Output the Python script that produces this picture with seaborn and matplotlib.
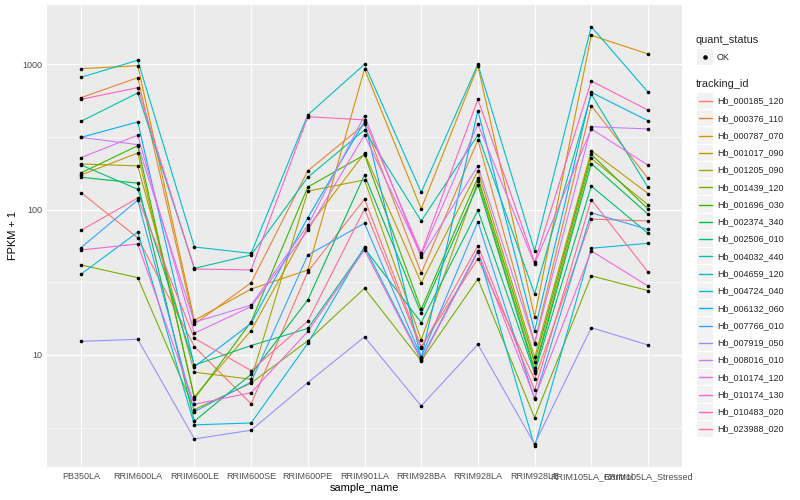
import matplotlib
matplotlib.use("Agg")
import matplotlib.pyplot as plt
import seaborn as sns
import pandas as pd
from matplotlib.patches import Rectangle
from matplotlib.lines import Line2D
from matplotlib.ticker import FixedLocator, NullFormatter

samples = ["PB350LA", "RRIM600LA", "RRIM600LE", "RRIM600SE", "RRIM600PE", "RRIM901LA",
           "RRIM928BA", "RRIM928LA", "RRIM928LE", "RRIM105LA_Control", "RRIM105LA_Stressed"]

tracking_ids = ["Hb_000185_120", "Hb_000376_110", "Hb_000787_070", "Hb_001017_090",
                "Hb_001205_090", "Hb_001439_120", "Hb_001696_030", "Hb_002374_340",
                "Hb_002506_010", "Hb_004032_440", "Hb_004659_120", "Hb_004724_040",
                "Hb_006132_060", "Hb_007766_010", "Hb_007919_050", "Hb_008016_010",
                "Hb_010174_120", "Hb_010174_130", "Hb_010483_020", "Hb_023988_020"]

# FPKM + 1 per sample (order of `samples`)
hb_000185_120 = [131, 64, 11.4, 4.6, 37.4, 118, 11.4, 46, 6.8, 86, 83.5]
hb_000376_110 = [589, 809, 16.3, 31.4, 185, 386, 36.5, 301, 12.1, 519, 164]
hb_000787_070 = [933, 978, 17.3, 28.4, 38.4, 929, 101, 973, 18.3, 1583, 1178]
hb_001017_090 = [173, 245, 5.15, 14.7, 75, 244, 31.4, 185, 9.6, 254, 129]
hb_001205_090 = [206, 200, 7.6, 6.8, 134, 160, 12.7, 157, 8.1, 225, 108]
hb_001439_120 = [41.6, 34, 4.2, 6.4, 12.5, 28.7, 9.1, 33.3, 3.7, 35, 27.7]
hb_001696_030 = [179, 275, 5.0, 16.9, 143, 238, 20.6, 166, 8.9, 240, 101]
hb_002374_340 = [167, 152, 3.5, 7.35, 23.9, 173, 19.3, 148, 7.75, 207, 93]
hb_002506_010 = [203, 138, 8.5, 11.6, 15.2, 54.2, 16.7, 99, 7.5, 145, 68.7]
hb_004032_440 = [405, 635, 39.4, 48.7, 167, 353, 83.5, 326, 26.3, 622, 142]
hb_004659_120 = [814, 1066, 55.3, 50, 448, 1000, 131.5, 1000, 52, 1815, 644]
hb_004724_040 = [35.9, 70, 3.3, 3.4, 12.0, 55.6, 9.4, 52, 2.35, 54.2, 58.6]
hb_006132_060 = [314, 401, 8.3, 16.5, 88, 403, 9.5, 480, 14.6, 641, 409]
hb_007766_010 = [54.7, 116, 4.07, 6.5, 48.7, 80.5, 9.7, 82.6, 4.97, 95, 73]
hb_007919_050 = [12.4, 12.8, 2.64, 3.03, 6.45, 13.3, 4.45, 11.8, 2.43, 15.4, 11.7]
hb_008016_010 = [314, 280, 16.8, 22, 78, 443, 47, 200, 11.9, 372, 359]
hb_010174_120 = [228, 325, 14.1, 21.5, 72, 326, 48.7, 388, 42.3, 359, 202]
hb_010174_130 = [52.7, 58, 4.57, 5.5, 14.5, 52.8, 9.2, 51.3, 5.07, 52, 29.8]
hb_010483_020 = [574, 690, 39.0, 38.4, 436, 414, 50, 574, 43.4, 767, 484]
hb_023988_020 = [72, 120, 13.0, 7.8, 17.1, 101, 11.1, 56.5, 5.7, 117, 37.2]

series = [hb_000185_120, hb_000376_110, hb_000787_070, hb_001017_090, hb_001205_090,
          hb_001439_120, hb_001696_030, hb_002374_340, hb_002506_010, hb_004032_440,
          hb_004659_120, hb_004724_040, hb_006132_060, hb_007766_010, hb_007919_050,
          hb_008016_010, hb_010174_120, hb_010174_130, hb_010483_020, hb_023988_020]

palette = ["#F8766D", "#EA8331", "#D89000", "#C09B00", "#A3A500", "#7CAE00", "#39B600",
           "#00BB4E", "#00BF7D", "#00C1A3", "#00BFC4", "#00BAE0", "#00B0F6", "#35A2FF",
           "#9590FF", "#C77CFF", "#E76BF3", "#FA62DB", "#FF62BC", "#FF6C91"]

rows = []
for tid, vals in zip(tracking_ids, series):
    for i, (s, v) in enumerate(zip(samples, vals)):
        rows.append({"tracking_id": tid, "sample_name": s, "pos": i, "value": v,
                     "quant_status": "OK"})
df = pd.DataFrame(rows)

sns.set_style("darkgrid", {"axes.facecolor": "#EBEBEB", "grid.color": "white"})
plt.rcParams["font.family"] = ["Liberation Sans", "DejaVu Sans"]

W, H, DPI = 800, 500, 72
fig, ax = plt.subplots(figsize=(W / DPI, H / DPI), dpi=DPI)
fig.patch.set_facecolor("white")
L, R, T, B = 47, 682, 5, 467
fig.subplots_adjust(left=L / W, right=R / W, top=1 - T / H, bottom=1 - B / H)

sns.lineplot(data=df, x="pos", y="value", hue="tracking_id", hue_order=tracking_ids,
             palette=palette, estimator=None, legend=False, linewidth=1.1, ax=ax)
sns.scatterplot(data=df, x="pos", y="value", color="black", s=13, linewidth=0,
                legend=False, ax=ax, zorder=5)

ax.set_yscale("log")
ax.set_ylim(1.692, 2559)
ax.set_xlim(-0.6, 10.6)
ax.set_xticks(range(len(samples)))
ax.set_xticklabels(samples)
ax.set_yticks([10, 100, 1000])
ax.set_yticklabels(["10", "100", "1000"])
ax.yaxis.set_minor_locator(FixedLocator([10 ** 0.5, 10 ** 1.5, 10 ** 2.5, 10 ** 3.5]))
ax.yaxis.set_minor_formatter(NullFormatter())
ax.xaxis.set_minor_locator(FixedLocator([]))
ax.grid(which="major", color="white", linewidth=1.2)
ax.grid(which="minor", axis="y", color="white", linewidth=0.6)
ax.set_axisbelow(True)
for sp in ax.spines.values():
    sp.set_visible(False)
ax.tick_params(axis="both", which="major", length=2.75, width=0.8, color="#333333",
               labelsize=9, labelcolor="#4D4D4D", pad=2.2)
ax.tick_params(axis="y", which="minor", length=0)
ax.set_xlabel("sample_name", fontsize=11, color="black", labelpad=2)
ax.set_ylabel("FPKM + 1", fontsize=11, color="black", labelpad=4)


def fx(x):
    return x / W


def fy(y):
    return 1 - y / H


# legend: quant_status
fig.text(fx(696), fy(40), "quant_status", fontsize=11, va="center", ha="left")
fig.add_artist(Rectangle((fx(697), fy(65)), 16 / W, 16 / H, transform=fig.transFigure,
                         facecolor="#F2F2F2", edgecolor="none"))
fig.add_artist(Line2D([fx(705)], [fy(57)], marker="o", markersize=3.5, color="black",
                      linestyle="none", transform=fig.transFigure))
fig.text(fx(717), fy(57), "OK", fontsize=9, va="center", ha="left")

# legend: tracking_id
fig.text(fx(696), fy(84), "tracking_id", fontsize=11, va="center", ha="left")
for k, (tid, col) in enumerate(zip(tracking_ids, palette)):
    cy = 101 + k * 17.27
    fig.add_artist(Rectangle((fx(697), fy(cy + 8)), 16 / W, 16.3 / H,
                             transform=fig.transFigure, facecolor="#F2F2F2",
                             edgecolor="none"))
    fig.add_artist(Line2D([fx(698.5), fx(711.5)], [fy(cy), fy(cy)], color=col,
                          linewidth=1.4, transform=fig.transFigure))
    fig.text(fx(717), fy(cy), tid, fontsize=9, va="center", ha="left")

fig.savefig("out.png", dpi=DPI)
